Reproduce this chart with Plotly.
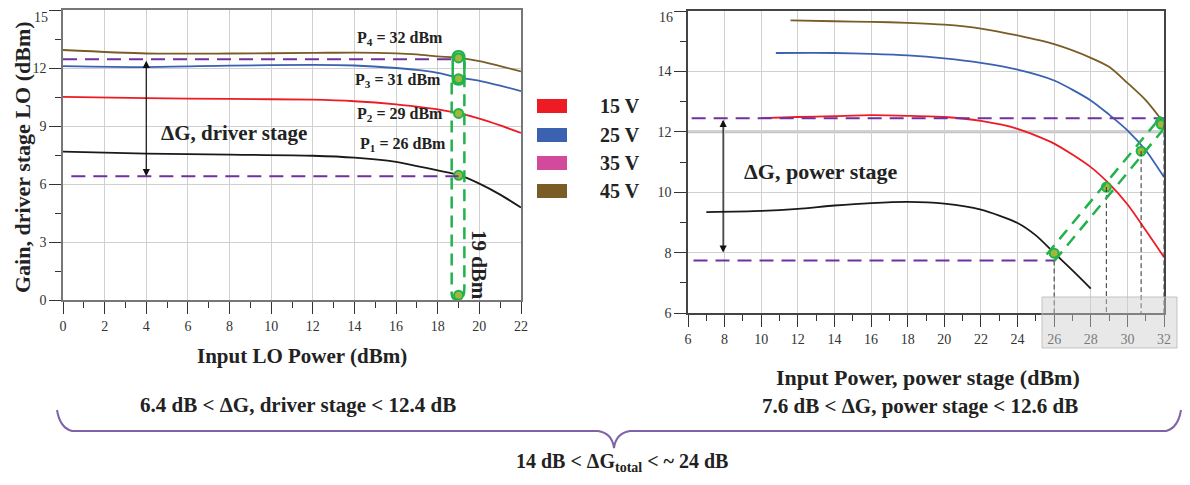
import plotly.graph_objects as go

# the page adds an 8 px body margin: the figure is drawn 8 px in, so size it to fit the window
OFF = 8
W, H = 1190 - 2 * OFF, 485 - 2 * OFF
FONT = "Liberation Serif"

# ---------------- Left chart: driver stage ----------------
lo_x = [0, 4, 8, 12, 14, 16, 17, 18, 19, 20, 21, 22]
lo_45v = [12.93, 12.75, 12.75, 12.78, 12.80, 12.76, 12.70, 12.60, 12.52, 12.36, 12.10, 11.82]
lo_25v = [12.10, 12.05, 12.12, 12.16, 12.13, 12.00, 11.90, 11.75, 11.50, 11.34, 11.09, 10.80]
lo_15v = [10.51, 10.44, 10.40, 10.36, 10.28, 10.12, 10.00, 9.86, 9.66, 9.38, 9.03, 8.64]
lo_blk = [7.67, 7.57, 7.52, 7.46, 7.36, 7.14, 6.93, 6.70, 6.47, 6.02, 5.45, 4.78]

drv_pts_x = [19, 19, 19, 19, 19]
drv_pts_y = [12.52, 11.45, 9.65, 6.45, 0.25]
drv_limits = [6.4, 12.45]

p_labels = ["P<sub>4</sub> = 32 dBm", "P<sub>3</sub> = 31 dBm", "P<sub>2</sub> = 29 dBm", "P<sub>1</sub> = 26 dBm"]
p_label_x = [16.2, 16.1, 16.2, 16.35]
p_label_y = [13.55, 11.33, 9.57, 8.02]

# ---------------- Right chart: power stage ----------------
ps_45v_x = [11.6, 14, 16, 18, 20, 22, 24, 26, 28, 29, 30, 31, 31.8]
ps_45v_y = [15.69, 15.66, 15.64, 15.61, 15.55, 15.42, 15.19, 14.90, 14.45, 14.15, 13.62, 13.05, 12.45]
ps_25v_x = [10.8, 14, 16, 18, 20, 22, 24, 26, 28, 29, 30, 31, 32]
ps_25v_y = [14.61, 14.61, 14.58, 14.53, 14.43, 14.28, 14.06, 13.70, 13.04, 12.57, 12.05, 11.39, 10.50]
ps_15v_x = [10, 12, 14, 16, 18, 20, 22, 24, 26, 28, 29, 30, 31, 32]
ps_15v_y = [12.45, 12.49, 12.52, 12.55, 12.53, 12.49, 12.36, 12.10, 11.61, 10.83, 10.28, 9.60, 8.74, 7.85]
ps_blk_x = [7, 10, 12, 14, 16, 18, 20, 22, 24, 25, 26, 27, 28]
ps_blk_y = [9.34, 9.38, 9.45, 9.56, 9.64, 9.68, 9.62, 9.42, 8.98, 8.57, 7.99, 7.41, 6.81]

pwr_pts_x = [26.0, 28.85, 30.75, 31.85]
pwr_pts_y = [7.98, 10.17, 11.36, 12.25]
pwr_limits = [7.74, 12.45]

legend_labels = ["15 V", "25 V", "35 V", "45 V"]
legend_colors = ["#ED1C24", "#3A62B0", "#D24A9B", "#7A5C26"]
black_color = "#1a1a1a"

x_ticks_left = list(range(0, 23, 2))
y_ticks_left = [0, 3, 6, 9, 12, 15]
x_ticks_right = list(range(6, 33, 2))
y_ticks_right = [6, 8, 10, 12, 14, 16]

# ---------------- figure ----------------
def px(x):  # window pixel -> paper
    return (x - OFF) / W

def py(y):
    return 1 - (y - OFF) / H

fig = go.Figure()

def add_line(x, y, color, xa, ya):
    fig.add_trace(go.Scatter(x=x, y=y, mode="lines", xaxis=xa, yaxis=ya,
                             line=dict(color=color, width=1.8, shape="spline", smoothing=0.7),
                             showlegend=False, hoverinfo="skip"))

add_line(lo_x, lo_45v, legend_colors[3], "x", "y")
add_line(lo_x, lo_25v, legend_colors[1], "x", "y")
add_line(lo_x, lo_15v, legend_colors[0], "x", "y")
add_line(lo_x, lo_blk, black_color, "x", "y")

add_line(ps_45v_x, ps_45v_y, legend_colors[3], "x2", "y2")
add_line(ps_25v_x, ps_25v_y, legend_colors[1], "x2", "y2")
add_line(ps_15v_x, ps_15v_y, legend_colors[0], "x2", "y2")
add_line(ps_blk_x, ps_blk_y, black_color, "x2", "y2")

PURPLE = "#7030A0"
GREEN = "#22B24C"
shapes = []

# purple dashed limit lines (left)
shapes.append(dict(type="line", xref="x", yref="y", x0=0, x1=drv_pts_x[0], y0=drv_limits[1], y1=drv_limits[1],
                   line=dict(color=PURPLE, width=2, dash="14px,8px")))
shapes.append(dict(type="line", xref="x", yref="y", x0=0.4, x1=drv_pts_x[0], y0=drv_limits[0], y1=drv_limits[0],
                   line=dict(color=PURPLE, width=2, dash="14px,8px")))

# green capsule (left)
xc = drv_pts_x[0]
dx = 0.28
top, p3 = drv_pts_y[0], drv_pts_y[1]
bot = drv_pts_y[-1]
loop = (f"M {xc-dx},{p3} L {xc-dx},{top} Q {xc-dx},{top+0.35} {xc},{top+0.35} "
        f"Q {xc+dx},{top+0.35} {xc+dx},{top} L {xc+dx},{p3} Q {xc+dx},{p3-0.3} {xc},{p3-0.3} "
        f"Q {xc-dx},{p3-0.3} {xc-dx},{p3} Z")
shapes.append(dict(type="path", xref="x", yref="y", path=loop, line=dict(color=GREEN, width=2.5)))
caps = (f"M {xc-dx-0.05},{p3-0.2} L {xc-dx-0.05},{bot+0.1} Q {xc-dx-0.05},{bot-0.25} {xc},{bot-0.25} "
        f"Q {xc+dx},{bot-0.25} {xc+dx},{bot+0.4} L {xc+dx},{top-0.2}")
shapes.append(dict(type="path", xref="x", yref="y", path=caps, line=dict(color=GREEN, width=2.5, dash="12px,7px")))

# right: thick gray gridline at 12
shapes.append(dict(type="line", xref="x2", yref="y2", x0=6, x1=32, y0=12, y1=12,
                   line=dict(color="#c4c4c4", width=3), layer="below"))

# purple dashed limit lines (right)
shapes.append(dict(type="line", xref="x2", yref="y2", x0=6.2, x1=32, y0=pwr_limits[1], y1=pwr_limits[1],
                   line=dict(color=PURPLE, width=2, dash="14px,8px")))
shapes.append(dict(type="line", xref="x2", yref="y2", x0=6.3, x1=pwr_pts_x[0], y0=pwr_limits[0], y1=pwr_limits[0],
                   line=dict(color=PURPLE, width=2, dash="14px,8px")))

# black dashed verticals (right)
for i, (xv, yv) in enumerate(zip(pwr_pts_x, pwr_pts_y)):
    y_start = pwr_limits[0] if i == 0 else yv
    shapes.append(dict(type="line", xref="x2", yref="y2", x0=xv if i < 3 else 32, x1=xv if i < 3 else 32,
                       y0=y_start, y1=5.95, line=dict(color="#333", width=1, dash="5px,3px")))

# green diagonal double dashed (right)
ox, oy = 0.21, 0.105
x_a, y_a = pwr_pts_x[0] - 0.2, pwr_pts_y[0] - 0.15
x_b, y_b = pwr_pts_x[-1], pwr_pts_y[-1]
for s in (-1, 1):
    shapes.append(dict(type="line", xref="x2", yref="y2",
                       x0=x_a + s * ox, y0=y_a - s * oy, x1=x_b + s * ox - 0.1, y1=y_b - s * oy - 0.07,
                       line=dict(color=GREEN, width=2.5, dash="12px,8px")))
cap = (f"M {x_b-ox-0.1},{y_b+oy-0.07} Q {x_b-0.15},{y_b+0.35} {x_b+0.1},{y_b+0.15} "
       f"Q {x_b+0.3},{y_b-0.05} {x_b+ox-0.05},{y_b-oy-0.1}")
shapes.append(dict(type="path", xref="x2", yref="y2", path=cap, line=dict(color=GREEN, width=2.5)))

# gray box over right bottom ticks
shapes.append(dict(type="rect", xref="paper", yref="paper", x0=px(1042), x1=px(1177), y0=py(348), y1=py(297),
                   fillcolor="rgba(205,205,205,0.45)", line=dict(color="rgba(190,190,190,0.9)", width=1),
                   layer="above"))

# legend boxes
leg_y = [106, 135, 163, 191]
for c, yy in zip(legend_colors, leg_y):
    shapes.append(dict(type="rect", xref="paper", yref="paper", x0=px(537), x1=px(567),
                       y0=py(yy + 7), y1=py(yy - 7), fillcolor=c, line=dict(width=0)))

# brace
bp = [(57, 410), (60, 428), (72, 431), (598, 431), (612, 433), (614, 448), (616, 433), (630, 431),
      (1166, 431), (1178, 428), (1181, 410)]
brace = (f"M {px(bp[0][0])},{py(bp[0][1])} Q {px(bp[1][0])},{py(bp[1][1])} {px(bp[2][0])},{py(bp[2][1])} "
         f"L {px(bp[3][0])},{py(bp[3][1])} Q {px(bp[4][0])},{py(bp[4][1])} {px(bp[5][0])},{py(bp[5][1])} "
         f"Q {px(bp[6][0])},{py(bp[6][1])} {px(bp[7][0])},{py(bp[7][1])} "
         f"L {px(bp[8][0])},{py(bp[8][1])} Q {px(bp[9][0])},{py(bp[9][1])} {px(bp[10][0])},{py(bp[10][1])}")
shapes.append(dict(type="path", xref="paper", yref="paper", path=brace, line=dict(color="#7F62A8", width=2)))

# green points
fig.add_trace(go.Scatter(x=drv_pts_x, y=drv_pts_y, mode="markers", xaxis="x", yaxis="y",
                         marker=dict(size=9, color="#9DB83A", line=dict(color=GREEN, width=2)),
                         showlegend=False, hoverinfo="skip"))
fig.add_trace(go.Scatter(x=pwr_pts_x, y=pwr_pts_y, mode="markers", xaxis="x2", yaxis="y2",
                         marker=dict(size=9, color="#9DB83A", line=dict(color=GREEN, width=2)),
                         showlegend=False, hoverinfo="skip"))

ann = []
bold = dict(family=FONT, color="#222", weight="bold")
C = dict(xanchor="center", yanchor="middle", showarrow=False)
TICKFONT = dict(family=FONT, size=14, color="#333")

for t, xx, yy in zip(p_labels, p_label_x, p_label_y):
    ann.append(dict(text=t, x=xx, y=yy, xref="x", yref="y", font=dict(size=16, **bold), **C))

ann.append(dict(text="19 dBm", x=19.95, y=1.8, xref="x", yref="y", textangle=90,
                font=dict(size=21, **bold), **C))
ann.append(dict(text="ΔG, driver stage", x=8.2, y=8.64, xref="x", yref="y",
                font=dict(size=21, **bold), **C))
ann.append(dict(text="ΔG, power stage", x=13.26, y=10.67, xref="x2", yref="y2",
                font=dict(size=22, **bold), **C))

# top tick labels (the axis hides them because they touch the page edge)
ann.append(dict(text=str(y_ticks_left[-1]), x=px(50), y=1, xref="paper", yref="paper",
                xanchor="right", yanchor="top", showarrow=False, font=TICKFONT))
ann.append(dict(text=str(y_ticks_right[-1]), x=px(675), y=1, xref="paper", yref="paper",
                xanchor="right", yanchor="top", showarrow=False, font=TICKFONT))

# double arrows
for xa, ya, y0, y1 in [("x", "y", drv_limits[1], drv_limits[0]), ("x2", "y2", pwr_limits[1], 8.0)]:
    xpos = 4 if xa == "x" else 7.92
    ann.append(dict(x=xpos, y=y1, ax=xpos, ay=y0, xref=xa, yref=ya, axref=xa, ayref=ya, text="",
                    showarrow=True, arrowhead=2, startarrowhead=2, arrowside="end+start",
                    arrowsize=1.2, arrowwidth=1.2, arrowcolor="#111"))

# legend labels
for t, yy in zip(legend_labels, leg_y):
    ann.append(dict(text=t, x=px(598), y=py(yy), xref="paper", yref="paper", xanchor="left",
                    yanchor="middle", showarrow=False, font=dict(size=20, **bold)))

# axis titles & bottom texts
ann.append(dict(text="Gain, driver stage LO (dBm)", x=px(22), y=py(157), xref="paper", yref="paper",
                textangle=-90, font=dict(size=22, **bold), **C))
ann.append(dict(text="Input LO Power (dBm)", x=px(302), y=py(356), xref="paper", yref="paper",
                font=dict(size=21, **bold), **C))
ann.append(dict(text="Input Power, power stage (dBm)", x=px(928), y=py(377), xref="paper", yref="paper",
                font=dict(size=22, **bold), **C))
ann.append(dict(text="6.4 dB < ΔG, driver stage < 12.4 dB", x=px(298), y=py(405), xref="paper",
                yref="paper", font=dict(size=21, **bold), **C))
ann.append(dict(text="7.6 dB < ΔG, power stage < 12.6 dB", x=px(920), y=py(406), xref="paper",
                yref="paper", font=dict(size=21, **bold), **C))
ann.append(dict(text="14 dB < ΔG<sub>total</sub> < ~ 24 dB", x=px(622), y=py(462), xref="paper",
                yref="paper", font=dict(size=20, **bold), **C))

axis_common = dict(showgrid=True, gridcolor="#d0d0d0", gridwidth=1, showline=True, linewidth=1.5,
                   mirror=True, ticks="outside", ticklen=12, tickwidth=1.2, tickcolor="#333",
                   tickfont=TICKFONT, zeroline=False, automargin=False)

fig.update_layout(
    width=W, height=H, margin=dict(l=0, r=0, t=0, b=0, pad=0), autosize=False,
    paper_bgcolor="white", plot_bgcolor="white",
    shapes=shapes, annotations=ann, showlegend=False,
    xaxis=dict(domain=[px(63), px(521)], range=[0, 22], tickvals=x_ticks_left, linecolor="#777",
               minor=dict(dtick=1, ticks="outside", ticklen=6, tickcolor="#333", showgrid=False),
               anchor="y", **axis_common),
    yaxis=dict(domain=[py(300), py(10)], range=[0, 15], tickvals=y_ticks_left, linecolor="#777",
               minor=dict(dtick=1.5, ticks="outside", ticklen=6, tickcolor="#333", showgrid=False),
               anchor="x", **axis_common),
    xaxis2=dict(domain=[px(688), px(1164)], range=[6, 32], tickvals=x_ticks_right, linecolor="#444",
                minor=dict(dtick=1, ticks="outside", ticklen=6, tickcolor="#333", showgrid=False),
                anchor="y2", **axis_common),
    yaxis2=dict(domain=[py(313), py(11)], range=[6, 16], tickvals=y_ticks_right, linecolor="#444",
                minor=dict(dtick=1, ticks="outside", ticklen=6, tickcolor="#333", showgrid=False),
                anchor="x2", **axis_common),
)

fig.write_html("out.html")
